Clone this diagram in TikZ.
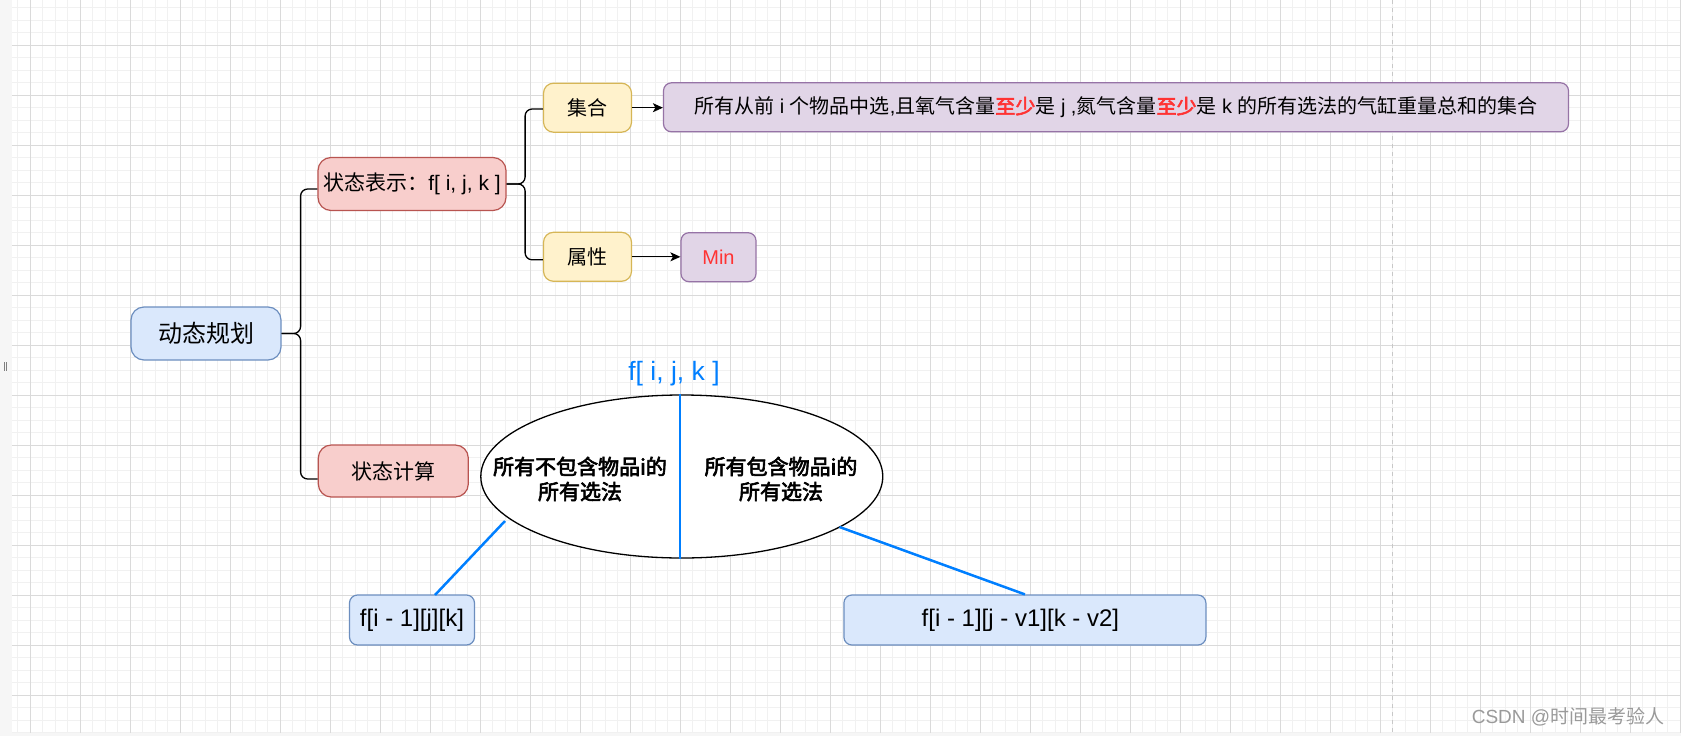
\documentclass[tikz,border=0pt]{standalone}
\usepackage{fontspec}
\setmainfont{Liberation Sans}
\newfontfamily\cjk{Noto Sans CJK SC}[AutoFakeBold=3]
\usetikzlibrary{shapes.geometric,arrows.meta}
\definecolor{bfill}{HTML}{DAE8FC}\definecolor{bdraw}{HTML}{6C8EBF}
\definecolor{rfill}{HTML}{F8CECC}\definecolor{rdraw}{HTML}{B85450}
\definecolor{yfill}{HTML}{FFF2CC}\definecolor{ydraw}{HTML}{D6B656}
\definecolor{pfill}{HTML}{E1D5E7}\definecolor{pdraw}{HTML}{9673A6}
\definecolor{hl}{HTML}{FF3333}
\definecolor{azure}{HTML}{007FFF}
\definecolor{gmaj}{HTML}{DADADA}\definecolor{gmin}{HTML}{F1F1F1}
\definecolor{strip}{HTML}{F6F6F6}
\definecolor{wmgray}{HTML}{9A9A9A}
\definecolor{dashgray}{HTML}{C8C8C8}
\newcommand{\setfs}[1]{\fontsize{#1}{#1}\selectfont}
\begin{document}
\begin{tikzpicture}[x=1pt,y=-1pt,
  box/.style={rectangle, rounded corners=10pt, line width=1.2pt, inner sep=0pt, align=center},
  bluebox/.style={box, fill=bfill, draw=bdraw},
  redbox/.style={box, fill=rfill, draw=rdraw},
  yelbox/.style={box, fill=yfill, draw=ydraw},
  purbox/.style={box, fill=pfill, draw=pdraw},
  conn/.style={line width=1.3pt, rounded corners=7pt},
  arr/.style={line width=1.3pt, -{Stealth[length=10pt,width=9pt,inset=2.5pt]}},
  bline/.style={line width=2.5pt, draw=azure},
  minorline/.style={line width=0.8pt, draw=gmin},
  majorline/.style={line width=1pt, draw=gmaj},
]
\useasboundingbox (0,0) rectangle (1681,736);
% background
\fill[white] (0,0) rectangle (1681,736);
\foreach \i in {0,...,133} {\draw[minorline] ({17.5+12.5*\i},0) -- ({17.5+12.5*\i},733);}
\foreach \i in {0,...,58} {\draw[minorline] (12.3,{7.5+12.5*\i}) -- (1681,{7.5+12.5*\i});}
\foreach \i in {0,...,33} {\draw[majorline] ({30+50*\i},0) -- ({30+50*\i},733);}
\foreach \i in {0,...,13} {\draw[majorline] (12.3,{45+50*\i}) -- (1681,{45+50*\i});}
\fill[strip] (0,0) rectangle (12.3,736);
\fill[strip] (0,733) rectangle (1681,736);
\draw[dashgray, line width=1pt, dash pattern=on 4pt off 4pt] (1392,0) -- (1392,733);
\draw[gray, line width=0.8pt] (4,362) -- (4,371);
\draw[gray, line width=0.8pt] (6,362) -- (6,371);

% nodes
\node[bluebox, minimum width=150pt, minimum height=53pt, rounded corners=13pt, font={\cjk\setfs{24}}] (dp) at (206,333.5) {动态规划};
\node[redbox, minimum width=188pt, minimum height=53pt, rounded corners=13pt, font={\setfs{21}}] (rep) at (412,184) {{\cjk 状态表示：}f[ i, j, k ]};
\node[redbox, minimum width=150pt, minimum height=52pt, rounded corners=13pt, font={\cjk\setfs{21}}] (calc) at (393.3,471) {状态计算};
\node[yelbox, minimum width=88pt, minimum height=49pt, font={\cjk\setfs{20}}] (set) at (587.5,107.7) {集合};
\node[yelbox, minimum width=88pt, minimum height=49pt, font={\cjk\setfs{20}}] (attr) at (587.5,256.8) {属性};
\node[purbox, minimum width=905pt, minimum height=49pt, rounded corners=8pt, font={\setfs{20}}] (desc) at (1116,107.3)
  {{\cjk 所有从前} i {\cjk 个物品中选},{\cjk 且氧气含量{\color{hl}\bfseries 至少}是} j ,{\cjk 氮气含量{\color{hl}\bfseries 至少}是} k {\cjk 的所有选法的气缸重量总和的集合}};
\node[purbox, minimum width=75pt, minimum height=49pt, rounded corners=8pt, font={\setfs{20}}, text=hl] (min) at (718.5,257.2) {Min};

\node[ellipse, draw=black, fill=white, line width=1.3pt, minimum width=402pt, minimum height=163pt, inner sep=0pt] (ell) at (681.8,476.5) {};
\node[font={\setfs{26.5}}, text=azure] (lbl) at (674,374) {f[ i, j, k ]};
\node[font={\cjk\bfseries\fontsize{21}{25}\selectfont}, align=center] (tl) at (580,479) {所有不包含物品i的\\所有选法};
\node[font={\cjk\bfseries\fontsize{21}{25}\selectfont}, align=center] (tr) at (781,479) {所有包含物品i的\\所有选法};

\node[bluebox, minimum width=125pt, minimum height=50pt, rounded corners=8pt, font={\setfs{24}}] (b1) at (412,620) {f[i - 1][j][k]};
\node[bluebox, minimum width=362pt, minimum height=50pt, rounded corners=8pt, font={\setfs{24}}] (b2) at (1024.9,620) {f[i - 1][j - v1][k - v2]\hspace*{9pt}};

\node[font={\setfs{19}}, text=wmgray] (wm) at (1568,717) {CSDN @{\cjk 时间最考验人}};

% connectors
\draw[conn] (dp.east) -- ++(19,0) |- ([yshift=-5pt]rep.west);
\draw[conn] (dp.east) -- ++(19,0) |- ([yshift=-8pt]calc.west);
\draw[conn] (rep.east) -- ++(18.5,0) |- ([yshift=-1.3pt]set.west);
\draw[conn] (rep.east) -- ++(18.5,0) |- ([yshift=-3pt]attr.west);
\draw[arr] (set.east) -- (desc.west |- set.east);
\draw[arr] (attr.east) -- (min.west |- attr.east);

\coordinate (vt) at (680,394);
\coordinate (vb) at (680,559);
\coordinate (l1) at (505,521);
\coordinate (l1b) at (435,595);
\coordinate (r1) at (839.5,527);
\draw[bline] (vt) -- (vb);
\draw[bline] (l1) -- (l1b);
\draw[bline] (r1) -- (b2.north);
\end{tikzpicture}
\end{document}
